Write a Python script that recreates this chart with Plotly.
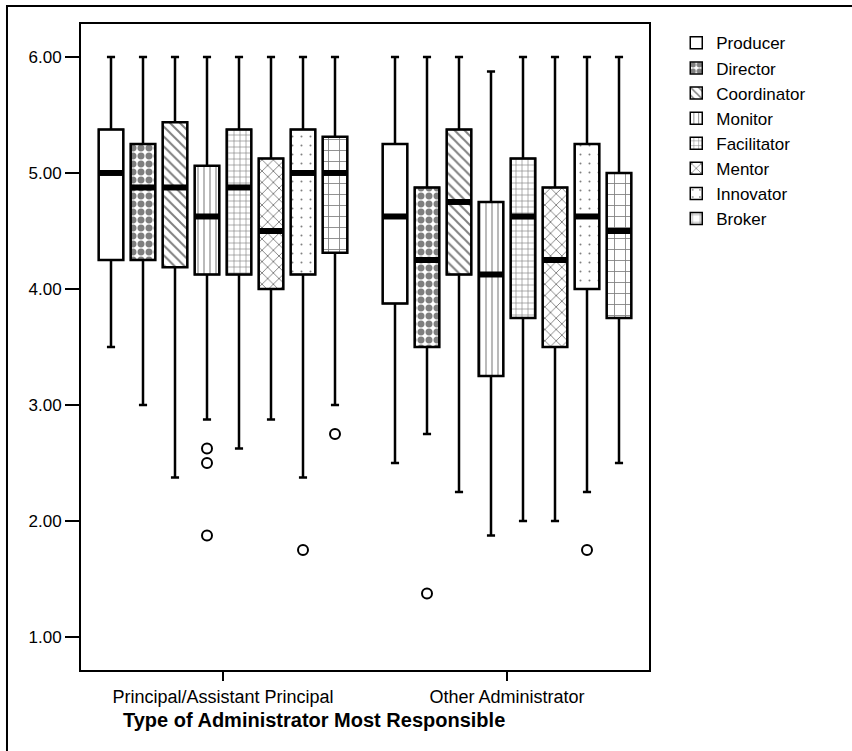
import plotly.graph_objects as go

groups = ["Principal/Assistant Principal", "Other Administrator"]
roles = ["Producer", "Director", "Coordinator", "Monitor", "Facilitator", "Mentor", "Innovator", "Broker"]

# per role: values for [Principal/Assistant Principal, Other Administrator]
lower = {
    "Producer": [3.5, 2.5], "Director": [3.0, 2.75], "Coordinator": [2.375, 2.25], "Monitor": [2.875, 1.875],
    "Facilitator": [2.625, 2.0], "Mentor": [2.875, 2.0], "Innovator": [2.375, 2.25], "Broker": [3.0, 2.5],
}
q1 = {
    "Producer": [4.25, 3.875], "Director": [4.25, 3.5], "Coordinator": [4.1875, 4.125], "Monitor": [4.125, 3.25],
    "Facilitator": [4.125, 3.75], "Mentor": [4.0, 3.5], "Innovator": [4.125, 4.0], "Broker": [4.3125, 3.75],
}
median = {
    "Producer": [5.0, 4.625], "Director": [4.875, 4.25], "Coordinator": [4.875, 4.75], "Monitor": [4.625, 4.125],
    "Facilitator": [4.875, 4.625], "Mentor": [4.5, 4.25], "Innovator": [5.0, 4.625], "Broker": [5.0, 4.5],
}
q3 = {
    "Producer": [5.375, 5.25], "Director": [5.25, 4.875], "Coordinator": [5.4375, 5.375], "Monitor": [5.0625, 4.75],
    "Facilitator": [5.375, 5.125], "Mentor": [5.125, 4.875], "Innovator": [5.375, 5.25], "Broker": [5.3125, 5.0],
}
upper = {
    "Producer": [6.0, 6.0], "Director": [6.0, 6.0], "Coordinator": [6.0, 6.0], "Monitor": [6.0, 5.875],
    "Facilitator": [6.0, 6.0], "Mentor": [6.0, 6.0], "Innovator": [6.0, 6.0], "Broker": [6.0, 6.0],
}
outliers = {
    "Producer": [[], []], "Director": [[], [1.375]], "Coordinator": [[], []], "Monitor": [[2.625, 2.5, 1.875], []],
    "Facilitator": [[], []], "Mentor": [[], []], "Innovator": [[1.75], [1.75]], "Broker": [[2.75], []],
}
y_ticks = [1.0, 2.0, 3.0, 4.0, 5.0, 6.0]
y_tick_labels = ["1.00", "2.00", "3.00", "4.00", "5.00", "6.00"]
x_title = "Type of Administrator Most Responsible"

patterns = {
    "Producer": dict(shape=""),
    "Director": dict(shape=".", size=8, solidity=0.6),
    "Coordinator": dict(shape="\\", size=7, solidity=0.28),
    "Monitor": dict(shape="|", size=6, solidity=0.18),
    "Facilitator": dict(shape="+", size=6, solidity=0.2),
    "Mentor": dict(shape="x", size=8, solidity=0.22),
    "Innovator": dict(shape=".", size=9, solidity=0.04),
    "Broker": dict(shape="+", size=11, solidity=0.15),
}

FONT = "Liberation Sans, Arial, sans-serif"
AG = "roles"
fig = go.Figure()

# patterned interquartile fills (also provide the legend)
for r in roles:
    pat = dict(patterns[r])
    pat.update(fgcolor="black", bgcolor="white", fillmode="overlay")
    fig.add_trace(go.Bar(
        x=groups, base=q1[r], y=[b - a for a, b in zip(q1[r], q3[r])], name=r,
        offsetgroup=r, alignmentgroup=AG,
        marker=dict(color="white", pattern=pat, line=dict(color="black", width=1.5)),
        showlegend=True, hoverinfo="skip",
    ))

# box outlines and whiskers (precomputed statistics)
for r in roles:
    fig.add_trace(go.Box(
        x=groups, q1=q1[r], median=median[r], q3=q3[r],
        lowerfence=lower[r], upperfence=upper[r], name=r, showlegend=False,
        offsetgroup=r, alignmentgroup=AG,
        boxpoints=False, fillcolor="rgba(0,0,0,0)",
        line=dict(color="black", width=2.5), whiskerwidth=0.33,
    ))

# thick median bars
for r in roles:
    fig.add_trace(go.Scatter(
        x=groups, y=median[r], mode="markers", showlegend=False, name=r,
        offsetgroup=r, alignmentgroup=AG, hoverinfo="skip",
        marker=dict(symbol="line-ew", size=17.5, color="black", line=dict(width=6, color="black")),
    ))

# outliers
for r in roles:
    ox = [g for g, vals in zip(groups, outliers[r]) for _ in vals]
    oy = [v for vals in outliers[r] for v in vals]
    fig.add_trace(go.Scatter(
        x=ox, y=oy, mode="markers", showlegend=False, name=r,
        offsetgroup=r, alignmentgroup=AG,
        marker=dict(symbol="circle-open", size=10, color="black", line=dict(width=2, color="black")),
    ))

fig.update_layout(
    width=852, height=751,
    margin=dict(l=81, r=203, t=24, b=81, pad=0),
    paper_bgcolor="white", plot_bgcolor="white",
    barmode="group", bargap=0.0986, bargroupgap=0.23,
    boxmode="group", boxgap=0.0986, boxgroupgap=0.23,
    scattermode="group", scattergap=0.0986,
    font=dict(family=FONT, color="black", size=16),
    legend=dict(x=1.048, y=0.998, xanchor="left", yanchor="top", font=dict(size=17, family=FONT),
                bgcolor="rgba(0,0,0,0)", itemclick=False),
    xaxis=dict(type="category", showline=True, linecolor="black", linewidth=2, mirror=True,
               ticks="outside", ticklen=9, tickwidth=1.5, tickcolor="black",
               showgrid=False, zeroline=False, tickfont=dict(size=18)),
    yaxis=dict(range=[0.716, 6.284], tickvals=y_ticks, ticktext=y_tick_labels,
               showline=True, linecolor="black", linewidth=2, mirror=True,
               ticks="outside", ticklen=14, tickwidth=1.5, tickcolor="black",
               showgrid=False, zeroline=False, tickfont=dict(size=17)),
    annotations=[dict(text="<b>" + x_title + "</b>", xref="paper", yref="paper", x=0.41, y=-0.078,
                      xanchor="center", yanchor="middle", showarrow=False, font=dict(size=20, family=FONT))],
    shapes=[dict(type="rect", xref="paper", yref="paper", x0=-0.1303, x1=2.0, y0=-0.3, y1=1.0279,
                 line=dict(color="black", width=2), fillcolor="rgba(0,0,0,0)", layer="below")],
)

fig.write_html("out.html")
